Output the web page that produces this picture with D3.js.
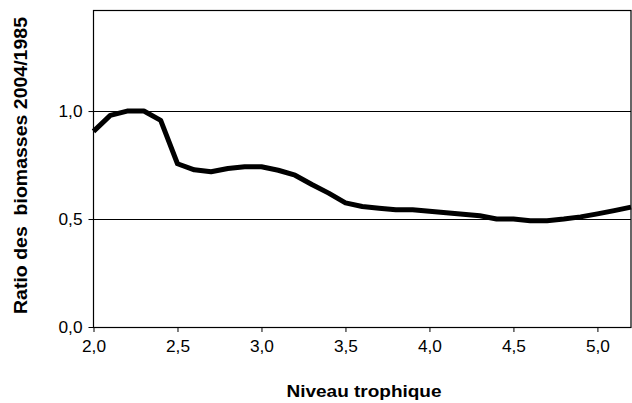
<!DOCTYPE html>
<html><head><meta charset="utf-8">
<script src="https://cdn.jsdelivr.net/npm/d3@7"></script>
<style>body{margin:0;background:#fff}svg{display:block}text{font-family:"Liberation Sans",Arial,sans-serif}</style>
</head><body>
<svg id="c" width="632" height="403"></svg>
<script>
const levels = [2.0,2.1,2.2,2.3,2.4,2.5,2.6,2.7,2.8,2.9,3.0,3.1,3.2,3.3,3.4,3.5,3.6,3.7,3.8,3.9,4.0,4.1,4.2,4.3,4.4,4.5,4.6,4.7,4.8,4.9,5.0,5.1,5.2];
const ratios = [0.906,0.98,1.0,1.0,0.957,0.756,0.728,0.719,0.734,0.742,0.742,0.726,0.703,0.66,0.62,0.575,0.558,0.55,0.543,0.543,0.536,0.529,0.522,0.515,0.5,0.5,0.492,0.492,0.5,0.51,0.524,0.539,0.555];
const xTicks = [2.0,2.5,3.0,3.5,4.0,4.5,5.0];
const yTicks = [0,0.5,1.0];
const xTitle = "Niveau trophique";
const yTitle = "Ratio des  biomasses 2004/1985";

const svg = d3.select("#c");
const L = 93.5, R = 631, T = 10, B = 327;
const x = d3.scaleLinear().domain([2.0,5.2]).range([L,R]);
const y = d3.scaleLinear().domain([0,1.468]).range([B,T]);
const fmt = d => d.toFixed(1).replace(".", ",");

// gridlines
svg.append("g").selectAll("line").data(yTicks.filter(d=>d>0)).join("line")
  .attr("x1",L).attr("x2",R).attr("y1",d=>Math.round(y(d))+0.5).attr("y2",d=>Math.round(y(d))+0.5)
  .attr("stroke","#000").attr("stroke-width",1);

// frame
svg.append("rect").attr("x",L).attr("y",T+0.5).attr("width",R-L).attr("height",B-T)
  .attr("fill","none").attr("stroke","#000").attr("stroke-width",1.2);

const xa = svg.append("g").attr("transform",`translate(0,${B})`)
  .call(d3.axisBottom(x).tickValues(xTicks).tickFormat(fmt).tickSize(5).tickPadding(9));
const ya = svg.append("g").attr("transform",`translate(${L},0)`)
  .call(d3.axisLeft(y).tickValues(yTicks).tickFormat(fmt).tickSize(5).tickPadding(6));
[xa,ya].forEach(a=>{
  a.select(".domain").remove();
  a.selectAll("line").attr("stroke","#000");
  a.selectAll("text").attr("font-size",16).attr("fill","#000")
    .attr("textLength",24).attr("lengthAdjust","spacingAndGlyphs")
    .style("font-family","'Liberation Sans',Arial,sans-serif");
});

// line
svg.append("path").datum(levels.map((l,i)=>[l,ratios[i]]))
  .attr("d", d3.line().x(d=>x(d[0])).y(d=>y(d[1])))
  .attr("fill","none").attr("stroke","#000").attr("stroke-width",5).attr("stroke-linejoin","round");

svg.append("text").attr("x",364).attr("y",397).attr("text-anchor","middle")
  .attr("font-size",16).attr("font-weight","bold")
  .attr("textLength",155).attr("lengthAdjust","spacingAndGlyphs").text(xTitle);
svg.append("text").attr("transform","translate(27,165.5) rotate(-90)").attr("text-anchor","middle")
  .attr("font-size",17.5).attr("font-weight","bold")
  .style("white-space","pre")
  .attr("textLength",297).attr("lengthAdjust","spacingAndGlyphs").text(yTitle);
</script>
</body></html>
